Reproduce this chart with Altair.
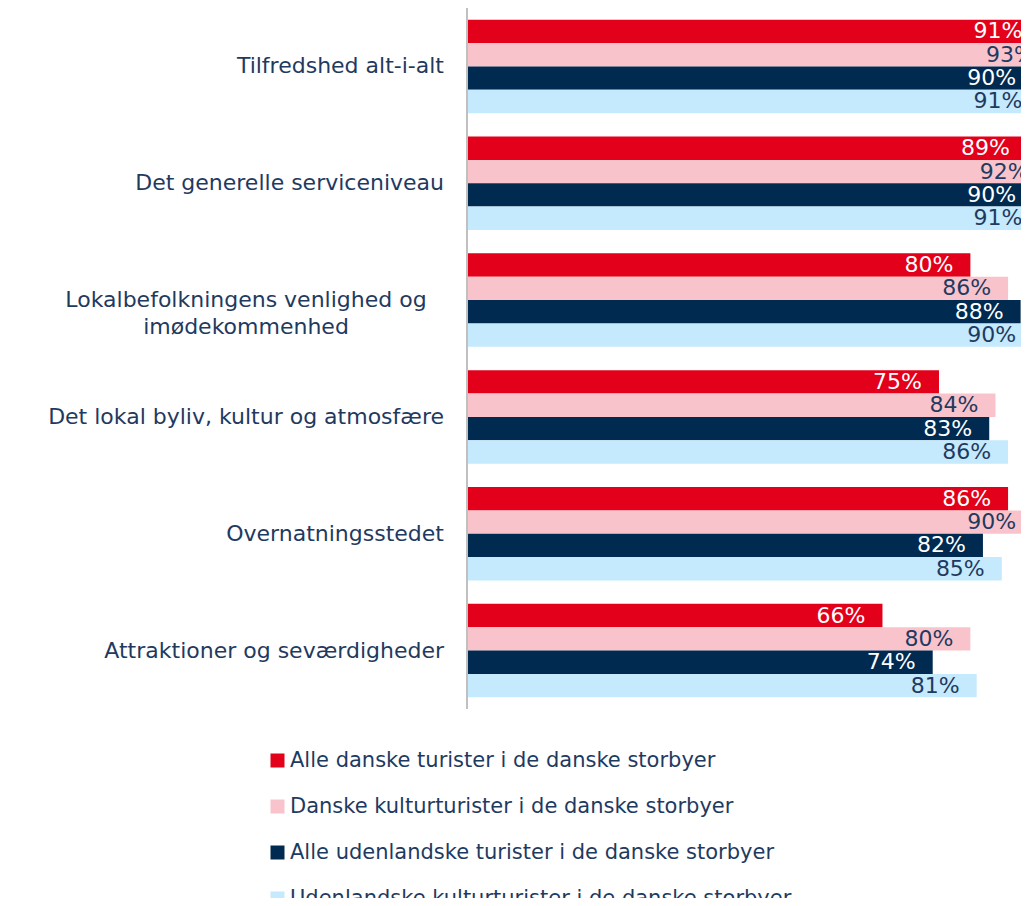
import altair as alt
import pandas as pd

categories = [
    "Tilfredshed alt-i-alt",
    "Det generelle serviceniveau",
    "Lokalbefolkningens venlighed og\nimødekommenhed",
    "Det lokal byliv, kultur og atmosfære",
    "Overnatningsstedet",
    "Attraktioner og seværdigheder",
]
series = [
    "Alle danske turister i de danske storbyer",
    "Danske kulturturister i de danske storbyer",
    "Alle udenlandske turister i de danske storbyer",
    "Udenlandske kulturturister i de danske storbyer",
]
alle_danske = [91, 89, 80, 75, 86, 66]
danske_kultur = [93, 92, 86, 84, 90, 80]
alle_udenlandske = [90, 90, 88, 83, 82, 74]
udenlandske_kultur = [91, 91, 90, 86, 85, 81]
colors = ["#e3001b", "#f9c3cc", "#002a50", "#c5e9fd"]
navy_text = "#1f3a5f"
FONT = "DejaVu Sans"

rows = []
for s, vals in zip(series, [alle_danske, danske_kultur, alle_udenlandske, udenlandske_kultur]):
    for c, v in zip(categories, vals):
        rows.append({"cat": c, "series": s, "value": v})
df = pd.DataFrame(rows)

ysc = alt.Scale(domain=categories, paddingInner=0.2, paddingOuter=0.1)
y = alt.Y("cat:N", sort=categories, scale=ysc, axis=None)
yoff = alt.YOffset("series:N", sort=series, scale=alt.Scale(domain=series))
x = alt.X("value:Q", scale=alt.Scale(domain=[0, 88.06], nice=False, zero=True), axis=None)

base = alt.Chart(df)

bars = base.mark_bar(clip=True).encode(
    y=y, yOffset=yoff, x=x,
    color=alt.Color(
        "series:N",
        scale=alt.Scale(domain=series, range=colors),
        legend=alt.Legend(
            title=None, orient="none", legendX=-201, legendY=742,
            direction="vertical", symbolType="square", symbolSize=196,
            symbolStrokeWidth=0, labelFontSize=21, labelFont=FONT,
            labelColor=navy_text, labelOffset=2, rowPadding=24,
            labelLimit=0, padding=0,
        ),
    ),
)

labels = base.transform_calculate(label="datum.value + '%'").mark_text(
    align="right", baseline="middle", dx=-17, fontSize=22, font=FONT, clip=True
).encode(
    y=y, yOffset=yoff, x=x, text="label:N",
    color=alt.condition(
        alt.FieldOneOfPredicate(field="series", oneOf=[series[0], series[2]]),
        alt.value("white"), alt.value(navy_text),
    ),
)

catdf = pd.DataFrame({"cat": categories})
cat_single = alt.Chart(catdf).transform_filter(
    "indexof(datum.cat, '\\n') < 0"
).mark_text(align="right", baseline="middle", fontSize=22, font=FONT, color=navy_text).encode(
    y=y, x=alt.value(-24), text="cat:N"
)
cat_multi = alt.Chart(catdf).transform_filter(
    "indexof(datum.cat, '\\n') >= 0"
).mark_text(align="center", baseline="middle", fontSize=22, font=FONT, color=navy_text,
            lineBreak="\n", lineHeight=27).encode(
    y=y, x=alt.value(-222), text="cat:N"
)

axis_line = alt.Chart(catdf).mark_rule(color="#c0c0c0", strokeWidth=2).encode(
    x=alt.value(-1), y=alt.value(0), y2=alt.value(701)
)

chart = alt.layer(bars, labels, cat_single, cat_multi, axis_line).properties(
    width=553, height=701,
    autosize=alt.AutoSizeParams(type="none"),
    padding={"left": 460, "top": 0, "right": 0, "bottom": 189},
).configure_view(stroke=None)

chart.save("out.html", embed_options={"renderer": "svg", "actions": False})
